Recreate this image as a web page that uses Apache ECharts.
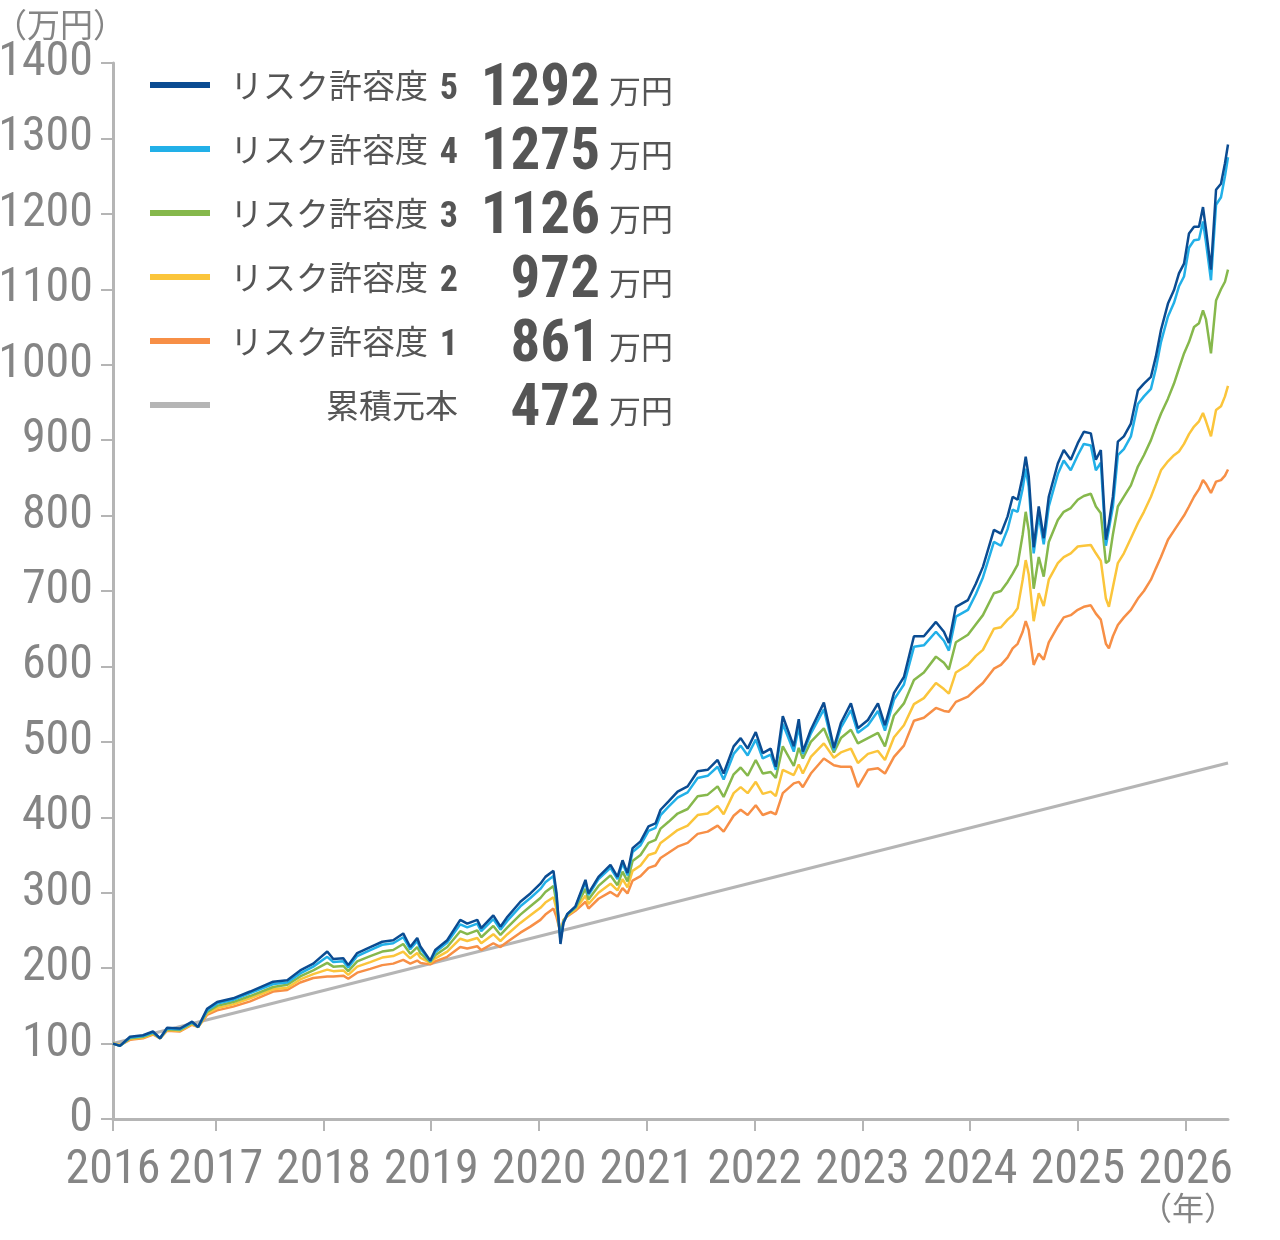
<!DOCTYPE html>
<html>
<head>
<meta charset="utf-8">
<script src="https://cdn.jsdelivr.net/npm/echarts@6/dist/echarts.min.js"></script>
<style>
html,body{margin:0;padding:0;background:#fff;}
#chart{width:1280px;height:1240px;}
</style>
</head>
<body>
<div id="chart"></div>
<script>
// ---- data (decimal years) ----
const years = [2016.047,2016.112,2016.205,2016.326,2016.418,2016.484,2016.549,2016.669,2016.781,2016.837,
2016.920,2017.013,2017.162,2017.320,2017.533,2017.664,2017.784,2017.905,2018.035,2018.091,
2018.184,2018.230,2018.313,2018.434,2018.545,2018.647,2018.740,2018.805,2018.870,2018.898,
2018.991,2019.037,2019.148,2019.269,2019.334,2019.427,2019.464,2019.576,2019.642,2019.707,
2019.827,2019.920,2020.013,2020.059,2020.134,2020.162,2020.199,2020.227,2020.264,2020.338,
2020.431,2020.459,2020.552,2020.663,2020.728,2020.775,2020.821,2020.868,2020.942,2021.016,
2021.081,2021.128,2021.202,2021.286,2021.379,2021.472,2021.565,2021.657,2021.713,2021.806,
2021.871,2021.936,2022.011,2022.076,2022.150,2022.197,2022.262,2022.364,2022.410,2022.448,
2022.522,2022.643,2022.736,2022.801,2022.894,2022.959,2023.052,2023.145,2023.210,2023.294,
2023.386,2023.479,2023.571,2023.683,2023.757,2023.803,2023.868,2023.980,2024.054,2024.119,
2024.221,2024.286,2024.348,2024.395,2024.441,2024.488,2024.516,2024.544,2024.590,2024.637,
2024.683,2024.730,2024.814,2024.869,2024.934,2024.999,2025.055,2025.120,2025.167,2025.213,
2025.260,2025.288,2025.325,2025.371,2025.427,2025.492,2025.557,2025.613,2025.678,2025.724,
2025.771,2025.836,2025.892,2025.938,2025.985,2026.031,2026.078,2026.124,2026.161,2026.189,
2026.235,2026.282,2026.328,2026.365,2026.393];

const risk5 = [100,97,109,111,116,107,121,120,129,122,
146,155,160,169,182,184,197,206,222,212,
213,204,220,228,235,237,246,228,240,229,
210,224,237,264,259,264,253,270,255,268,
288,299,312,321,329,300,232,260,272,282,
317,299,321,337,321,343,326,359,368,388,
392,410,421,434,441,461,463,476,458,494,
505,491,513,485,491,467,534,494,530,487,
516,552,492,525,551,518,529,551,522,565,
586,640,640,659,646,631,679,688,710,732,
781,776,799,825,821,852,878,852,758,812,
770,825,869,887,874,896,911,909,874,887,
768,790,825,898,905,922,966,975,984,1011,
1046,1081,1099,1121,1134,1174,1183,1183,1209,1179,
1126,1232,1240,1267,1292];

const risk4 = [100,97,108,110,115,107,120,119,128,122,
144,153,158,167,179,181,193,202,215,208,
209,201,216,224,231,233,241,225,236,226,
209,221,234,258,254,259,249,265,251,263,
282,293,305,314,322,295,236,261,272,281,
314,297,318,333,318,339,323,354,363,382,
386,403,414,426,433,452,455,467,450,484,
495,482,503,478,483,463,524,487,520,484,
511,543,489,519,542,512,522,541,515,556,
576,626,628,646,634,621,666,675,696,718,
765,760,782,808,805,836,862,838,750,800,
762,812,855,873,860,880,895,893,860,870,
760,782,812,880,888,905,948,958,968,995,
1030,1064,1082,1104,1117,1155,1165,1166,1190,1162,
1112,1212,1222,1250,1275];

const risk3 = [100,97,107,109,114,107,119,118,127,122,
142,150,155,163,175,178,189,197,207,202,
203,196,209,216,222,224,232,219,228,220,
208,217,228,249,245,250,241,256,244,254,
271,282,293,301,309,287,241,262,271,280,
305,291,309,323,310,328,315,342,350,366,
370,385,394,405,411,428,430,441,427,457,
466,455,476,458,460,452,494,468,492,478,
500,518,486,505,516,498,505,512,494,535,
551,582,592,613,605,596,632,642,656,668,
697,700,712,723,735,775,805,780,703,745,
719,765,794,805,810,821,826,829,812,803,
737,740,775,812,825,840,865,880,900,918,
935,955,975,995,1015,1030,1050,1055,1072,1060,
1015,1085,1100,1110,1126];

const risk2 = [100,98,106,108,113,107,118,117,126,122,
140,147,152,160,172,174,185,192,198,196,
197,191,202,208,214,216,222,213,220,214,
207,213,222,239,236,240,233,245,236,245,
260,270,280,287,294,278,244,263,270,278,
296,285,300,312,303,318,307,329,336,350,
353,366,374,383,389,403,405,415,404,432,
440,432,447,431,434,428,463,456,470,458,
480,498,479,486,491,472,484,488,476,506,
522,550,558,578,570,564,592,602,614,622,
650,652,662,668,677,715,741,722,660,697,
680,715,737,745,750,759,760,761,750,740,
690,679,705,737,750,770,790,805,825,842,
860,872,880,885,895,908,918,925,936,925,
905,940,945,958,972];

const risk1 = [100,98,105,107,112,107,117,116,125,122,
138,144,149,156,169,171,181,187,189,189,
190,186,194,199,204,206,211,206,210,207,
205,209,215,228,226,229,224,233,228,235,
247,255,264,271,279,268,247,264,269,276,
288,279,292,301,295,306,299,316,322,333,
336,346,353,361,366,378,381,389,381,402,
410,403,416,403,407,404,432,445,447,440,
458,478,469,467,467,440,463,465,458,480,
495,528,532,545,541,540,553,560,570,578,
597,602,612,624,630,646,660,648,602,617,
609,632,653,665,668,675,679,681,670,662,
630,624,640,655,665,675,690,700,715,730,
745,768,780,790,800,812,825,835,847,842,
830,845,847,853,861];

const principalYears = [2016.047, 2026.393];
const principal = [100, 472];

const xTickValues = [2016.047, 2017, 2018, 2019, 2020, 2021, 2022, 2023, 2024, 2025, 2026];
const xMin = 2016.047, xMax = 2026.393;
const yMin = 0, yMax = 1400, yInterval = 100;

const seriesNames = ['リスク許容度 5','リスク許容度 4','リスク許容度 3','リスク許容度 2','リスク許容度 1','累積元本'];
const seriesColors = ['#0b4c92','#22b0e8','#86b84c','#fbc53b','#f78f46','#b5b5b5'];
const seriesValues = [risk5, risk4, risk3, risk2, risk1];

// ---- build ----
const chart = echarts.init(document.getElementById('chart'), null, {renderer:'canvas'});
const numFont = '"Roboto Condensed","Liberation Sans Narrow",Roboto,sans-serif';
const jpFont = '"Noto Sans CJK JP","Noto Sans",sans-serif';

const series = [];
series.push({
  name: seriesNames[5], type:'line', showSymbol:false, silent:true,
  data: principalYears.map((x,i)=>[x, principal[i]]),
  lineStyle:{width:3, color:seriesColors[5]}, itemStyle:{color:seriesColors[5]}, z:2
});
for (let k = 4; k >= 0; k--) {
  series.push({
    name: seriesNames[k], type:'line', showSymbol:false, silent:true,
    data: years.map((x,i)=>[x, seriesValues[k][i]]),
    lineStyle:{width:2.5, color:seriesColors[k]}, itemStyle:{color:seriesColors[k]}, z:3+(4-k)
  });
}

function lastOf(name){
  const i = seriesNames.indexOf(name);
  if (i === 5) return principal[principal.length-1];
  const arr = seriesValues[i];
  return arr[arr.length-1];
}

const option = {
  animation:false,
  backgroundColor:'#fff',
  grid:{left:113, right:52, top:63, bottom:121, containLabel:false, outerBoundsMode:'none'},
  legend:{
    data: seriesNames,
    orient:'vertical', left:145, top:45,
    itemWidth:60, itemHeight:6, itemGap:-6, icon:'rect',
    selectedMode:false,
    formatter: function(name){
      const v = lastOf(name);
      if (name === '累積元本') return '{m|累積元本}{v|' + v + '}{u|万円}';
      const parts = name.split(' ');
      return '{n|' + parts[0] + '}{d|' + parts[1] + '}{v|' + v + '}{u|万円}';
    },
    textStyle:{
      color:'#555',
      rich:{
        n:{fontFamily:jpFont, fontSize:33, color:'#555', width:213, align:'right', lineHeight:56},
        d:{fontFamily:numFont, fontSize:36, fontWeight:'bold', color:'#555', width:30, align:'right', lineHeight:47, padding:[9,0,0,0]},
        m:{fontFamily:jpFont, fontSize:33, color:'#555', width:243, align:'right', lineHeight:56},
        v:{fontFamily:numFont, fontSize:59, fontWeight:'bold', color:'#555', width:142, align:'right', lineHeight:45, padding:[11,0,0,0]},
        u:{fontFamily:jpFont, fontSize:32, color:'#555', width:73, align:'right', lineHeight:45, padding:[11,0,0,0]}
      }
    }
  },
  xAxis:{
    type:'value', min:xMin, max:xMax,
    splitLine:{show:false},
    axisLine:{show:true, lineStyle:{color:'#b5b5b5', width:3}},
    axisTick:{show:true, customValues:xTickValues, length:12, lineStyle:{color:'#b5b5b5', width:2}},
    axisLabel:{customValues:xTickValues, formatter:function(v){return String(Math.floor(v+0.001));},
      color:'#858585', fontSize:48, fontFamily:numFont, margin:28, hideOverlap:false, showMinLabel:true, showMaxLabel:true}
  },
  yAxis:{
    type:'value', min:yMin, max:yMax, interval:yInterval,
    splitLine:{show:false},
    axisLine:{show:true, lineStyle:{color:'#b5b5b5', width:3}},
    axisTick:{show:true, length:12, lineStyle:{color:'#b5b5b5', width:2}},
    axisLabel:{color:'#858585', fontSize:48, fontFamily:numFont, margin:20, formatter:function(v){return String(v);}}
  },
  graphic:[
    {type:'text', left:-6, top:8, style:{text:'（万円）', fontSize:33, fontFamily:jpFont, fill:'#858585'}},
    {type:'text', left:1140, top:1192, style:{text:'（年）', fontSize:32, fontFamily:jpFont, fill:'#858585'}}
  ],
  series: series
};
chart.setOption(option);
</script>
</body>
</html>
